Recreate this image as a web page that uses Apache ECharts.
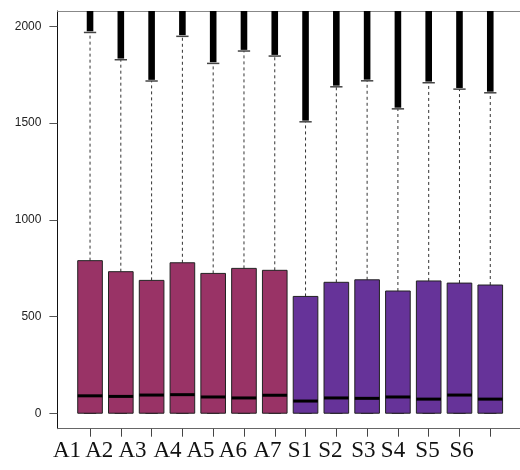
<!DOCTYPE html>
<html>
<head>
<meta charset="utf-8">
<script src="https://cdn.jsdelivr.net/npm/echarts@6/dist/echarts.min.js"></script>
<style>
  html, body { margin: 0; padding: 0; background: #fff; }
  #chart { width: 520px; height: 470px; }
</style>
</head>
<body>
<div id="chart"></div>
<script>
// Box statistics per sample (A = group 1, S = group 2)
const categories = ['A1', 'A2', 'A3', 'A4', 'A5', 'A6', 'A7', 'S1', 'S2', 'S3', 'S4', 'S5', 'S6', 'S7'];
const groups = ['A', 'A', 'A', 'A', 'A', 'A', 'A', 'S', 'S', 'S', 'S', 'S', 'S', 'S'];
const lowerWhisker = [0, 0, 0, 0, 0, 0, 0, 0, 0, 0, 0, 0, 0, 0];
const lowerQuartile = [0, 0, 0, 0, 0, 0, 0, 0, 0, 0, 0, 0, 0, 0];
const median = [90, 87, 94, 96, 84, 79, 93, 63, 79, 77, 84, 73, 94, 73];
const upperQuartile = [789, 732, 687, 778, 723, 749, 739, 604, 677, 690, 632, 684, 673, 663];
const upperWhisker = [1969, 1828, 1718, 1949, 1809, 1873, 1847, 1507, 1688, 1719, 1574, 1709, 1676, 1657];
// Outliers form a solid run from just above each whisker to beyond the plotted range
const outlierLow = [1975, 1834, 1724, 1955, 1815, 1879, 1853, 1513, 1694, 1725, 1580, 1715, 1682, 1663];
const outlierHigh = [2500, 2500, 2500, 2500, 2500, 2500, 2500, 2500, 2500, 2500, 2500, 2500, 2500, 2500];

// Axis text
const yTicks = [0, 500, 1000, 1500, 2000];
const tickLabels = ['A1', 'A2', 'A3', 'A4', 'A5', 'A6', 'A7', 'S1', 'S2', 'S3', 'S4', 'S5', 'S6'];

// Layout: where each x label sits along the axis (axis units)
const labelSlots = [0.253, 1.299, 2.380, 3.517, 4.589, 5.638, 6.765, 7.820, 8.805, 9.876, 10.841, 11.961, 13.072];
const fills = { A: '#993366', S: '#663399' };

const positions = categories.map((_, i) => i + 1);
const boxData = categories.map((_, i) => [positions[i], lowerWhisker[i], lowerQuartile[i], median[i], upperQuartile[i], upperWhisker[i]]);
const outData = categories.map((_, i) => [positions[i], outlierLow[i], outlierHigh[i]]);

function renderBox(params, api) {
  const x = api.coord([api.value(0), 0])[0];
  const y = (v) => api.coord([api.value(0), v])[1];
  const yLo = y(api.value(1)), y1 = y(api.value(2)), yMd = y(api.value(3)), y3 = y(api.value(4)), yHi = y(api.value(5));
  const w = api.size([0.8, 0])[0];
  const cap = w / 4;
  const fill = fills[groups[params.dataIndex]];
  const dash = { stroke: '#333', lineWidth: 1, lineDash: [3, 3] };
  const capStyle = { stroke: '#444', lineWidth: 1.5 };
  return {
    type: 'group',
    children: [
      { type: 'line', shape: { x1: x, y1: y3, x2: x, y2: yHi }, style: dash },
      { type: 'line', shape: { x1: x, y1: y1, x2: x, y2: yLo }, style: dash },
      { type: 'line', shape: { x1: x - cap, y1: yHi, x2: x + cap, y2: yHi }, style: capStyle },
      { type: 'line', shape: { x1: x - cap, y1: yLo, x2: x + cap, y2: yLo }, style: capStyle },
      { type: 'rect', shape: { x: x - w / 2, y: y3, width: w, height: y1 - y3 },
        style: { fill: fill, stroke: '#222', lineWidth: 1 } },
      { type: 'line', shape: { x1: x - w / 2, y1: yMd, x2: x + w / 2, y2: yMd },
        style: { stroke: '#000', lineWidth: 3 } }
    ]
  };
}

function renderOutliers(params, api) {
  const x = api.coord([api.value(0), 0])[0];
  const yA = api.coord([api.value(0), api.value(1)])[1];
  const yB = api.coord([api.value(0), api.value(2)])[1];
  const half = 3.3;
  const rect = echarts.graphic.clipRectByRect(
    { x: x - half, y: yB, width: half * 2, height: yA - yB },
    { x: params.coordSys.x, y: params.coordSys.y, width: params.coordSys.width, height: params.coordSys.height }
  );
  if (!rect) return null;
  return { type: 'rect', shape: rect, style: { fill: '#000' } };
}

const chart = echarts.init(document.getElementById('chart'), null, { renderer: 'canvas' });
chart.setOption({
  animation: false,
  backgroundColor: '#fff',
  grid: { left: 57.4, top: 11, width: 465.5, height: 417.7, containLabel: false, outerBoundsMode: 'none' },
  xAxis: [
    {
      type: 'value', min: -0.06, max: 15.06, position: 'bottom',
      axisLine: { show: true, onZero: false, lineStyle: { color: '#666', width: 1 } },
      axisTick: { show: true, customValues: positions, length: 8, lineStyle: { color: '#444', width: 1 } },
      axisLabel: {
        show: true, customValues: labelSlots, margin: 11,
        formatter: (v) => { const k = labelSlots.indexOf(v); return k >= 0 ? tickLabels[k] : ''; },
        fontFamily: 'Liberation Serif', fontSize: 23, color: '#111'
      },
      splitLine: { show: false }
    },
    {
      type: 'value', min: -0.06, max: 15.06, position: 'top',
      axisLine: { show: true, onZero: false, lineStyle: { color: '#888', width: 1 } },
      axisTick: { show: false }, axisLabel: { show: false }, splitLine: { show: false }
    }
  ],
  yAxis: {
    type: 'value', min: -80, max: 2080,
    axisLine: { show: true, onZero: false, lineStyle: { color: '#111', width: 1 } },
    axisTick: { show: true, customValues: yTicks, length: 8, lineStyle: { color: '#555', width: 1 } },
    axisLabel: {
      show: true, customValues: yTicks, margin: 16, formatter: (v) => String(v),
      fontFamily: 'Liberation Sans', fontSize: 12, color: '#222'
    },
    splitLine: { show: false }
  },
  series: [
    { type: 'custom', name: 'outliers', renderItem: renderOutliers, data: outData, encode: { x: 0, y: [1, 2] }, silent: true },
    { type: 'custom', name: 'boxes', renderItem: renderBox, data: boxData, encode: { x: 0, y: [1, 2, 3, 4, 5] }, silent: true }
  ]
});
</script>
</body>
</html>
